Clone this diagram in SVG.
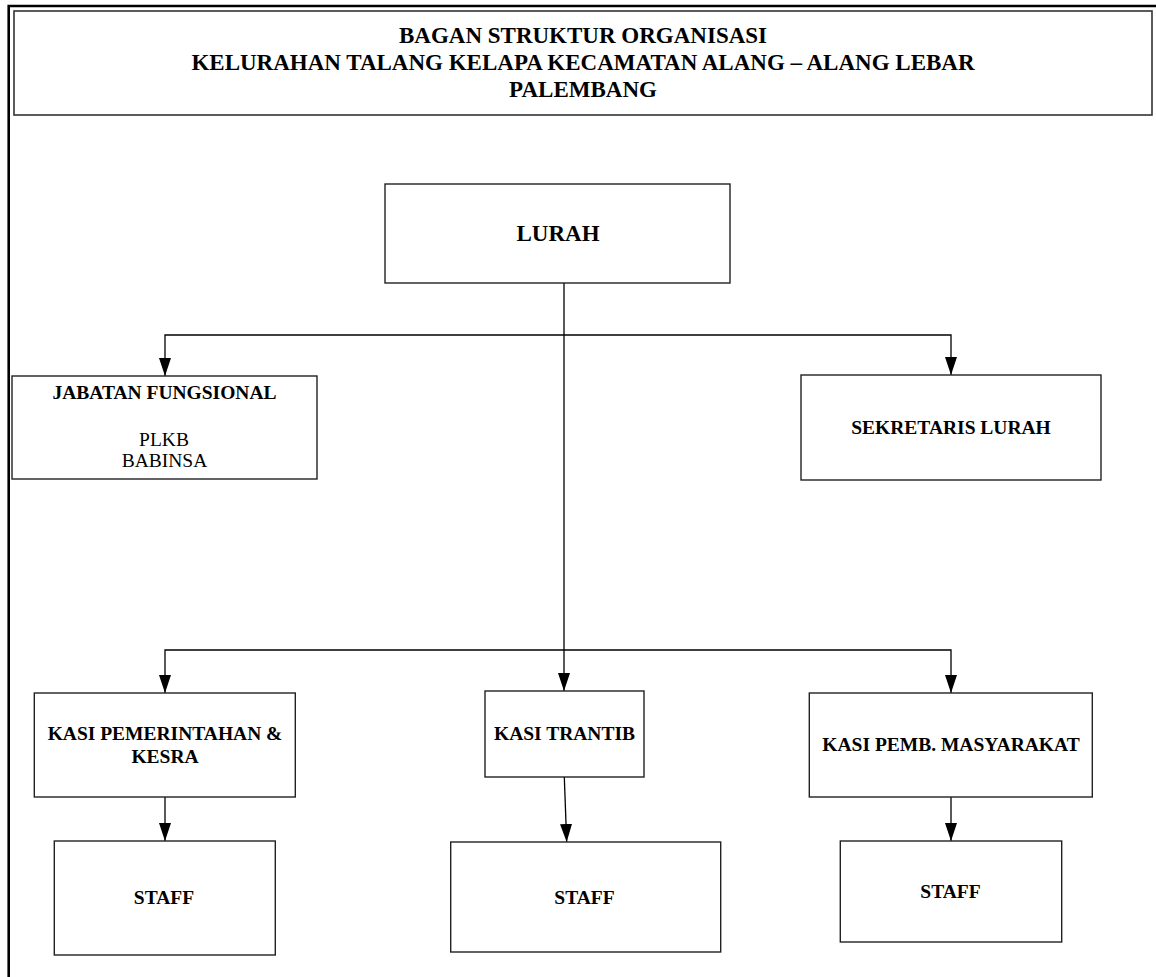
<svg xmlns="http://www.w3.org/2000/svg" width="1156" height="977" viewBox="0 0 1156 977">
<style>
.box{fill:#fff;stroke:#222;stroke-width:1.4}
.t{font-family:"Liberation Serif","Times New Roman",serif;font-weight:bold;fill:#000;text-anchor:middle}
.r{font-family:"Liberation Serif","Times New Roman",serif;fill:#000;text-anchor:middle}
.c{fill:none;stroke:#000;stroke-width:1.3;marker-end:url(#ah)}
</style>
<defs>
<marker id="ah" markerUnits="userSpaceOnUse" markerWidth="18" markerHeight="12" refX="18" refY="6" orient="auto">
<path d="M0,0 L18,6 L0,12 Z" fill="#000"/>
</marker>
</defs>
<rect width="1156" height="977" fill="#fff"/>
<g id="frame">
<path d="M8.7,977 V6 H1156" fill="none" stroke="#000" stroke-width="2.6"/>
</g>
<g id="title">
<rect x="14" y="11" width="1138" height="104" fill="#fff" stroke="#333" stroke-width="1.6"/>
<text class="t" x="583" y="43" font-size="23">BAGAN STRUKTUR ORGANISASI</text>
<text class="t" x="583" y="70" font-size="23">KELURAHAN TALANG KELAPA KECAMATAN ALANG – ALANG LEBAR</text>
<text class="t" x="583" y="97" font-size="23">PALEMBANG</text>
</g>
<g id="connectors">
<path class="c" d="M564,283 V691"/>
<path class="c" d="M564,335 H165 V376"/>
<path class="c" d="M564,335 H951 V375"/>
<path class="c" d="M564,650 H165 V693"/>
<path class="c" d="M564,650 H951 V693"/>
<path class="c" d="M165,797 V841"/>
<path class="c" d="M564.3,777 L566.7,842"/>
<path class="c" d="M951,797 V841"/>
</g>
<g id="lurah">
<rect class="box" x="385" y="184" width="345" height="99"/>
<text class="t" x="558" y="241" font-size="23">LURAH</text>
</g>
<g id="jabatan-fungsional">
<rect class="box" x="12" y="376" width="305" height="103"/>
<text class="t" x="164.5" y="399" font-size="19.5">JABATAN FUNGSIONAL</text>
<text class="r" x="164" y="446" font-size="19.5">PLKB</text>
<text class="r" x="164.5" y="467" font-size="19.5">BABINSA</text>
</g>
<g id="sekretaris-lurah">
<rect class="box" x="801" y="375" width="300" height="105"/>
<text class="t" x="951" y="434" font-size="19.5">SEKRETARIS LURAH</text>
</g>
<g id="kasi-pemerintahan">
<rect class="box" x="34.3" y="693" width="261" height="104"/>
<text class="t" x="165" y="740" font-size="19.5">KASI PEMERINTAHAN &amp;</text>
<text class="t" x="165" y="763" font-size="19.5">KESRA</text>
</g>
<g id="kasi-trantib">
<rect class="box" x="485" y="691" width="159" height="86"/>
<text class="t" x="564.5" y="740" font-size="19.5">KASI TRANTIB</text>
</g>
<g id="kasi-pemb-masyarakat">
<rect class="box" x="809.3" y="693" width="283" height="104"/>
<text class="t" x="951" y="751" font-size="19.5">KASI PEMB. MASYARAKAT</text>
</g>
<g id="staff-1">
<rect class="box" x="54.3" y="841" width="221" height="114"/>
<text class="t" x="164" y="904" font-size="19.5">STAFF</text>
</g>
<g id="staff-2">
<rect class="box" x="450.7" y="842" width="270" height="110"/>
<text class="t" x="584.5" y="904" font-size="19.5">STAFF</text>
</g>
<g id="staff-3">
<rect class="box" x="840.3" y="841" width="221.4" height="101"/>
<text class="t" x="950.5" y="898" font-size="19.5">STAFF</text>
</g>
</svg>
